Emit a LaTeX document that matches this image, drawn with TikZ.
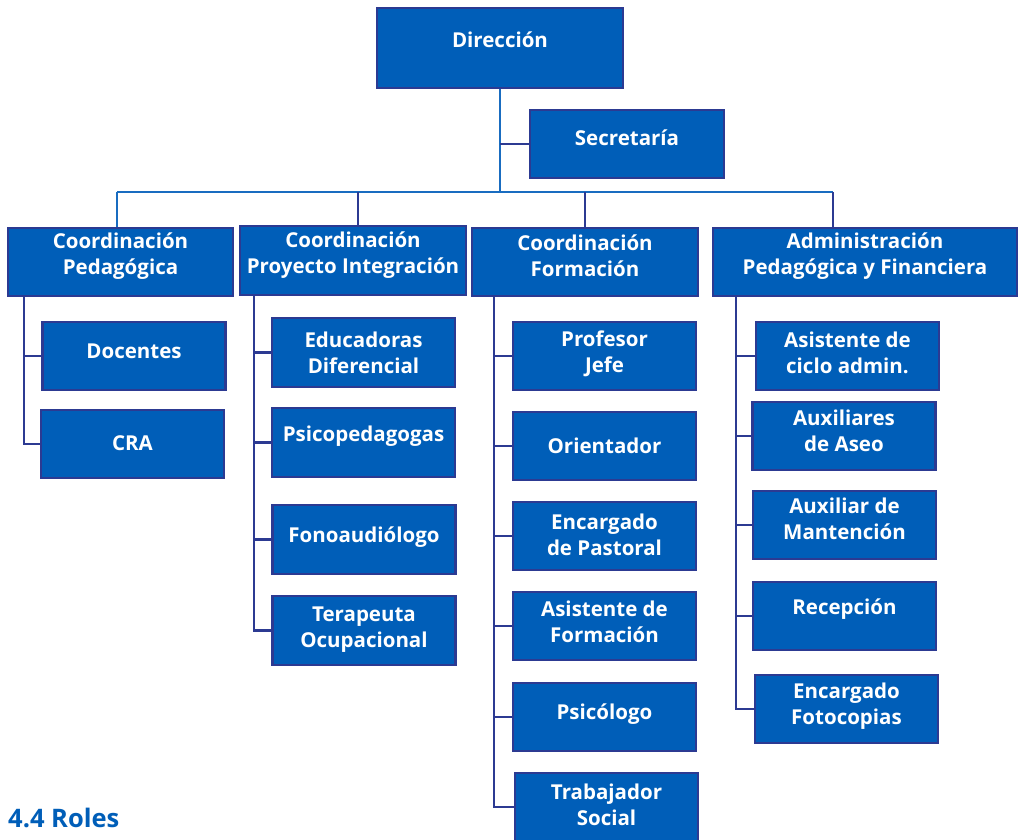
\documentclass[tikz,border=0pt]{standalone}
\usepackage{fontspec}
\setmainfont{Open Sans}
\definecolor{boxblue}{RGB}{0,94,184}
\definecolor{navy}{RGB}{44,58,146}
\definecolor{busblue}{RGB}{25,108,192}

\begin{document}
\begin{tikzpicture}[x=1pt, y=-1pt,
   box/.style={draw=navy, fill=boxblue, line width=2.2pt,
      minimum width=183pt, minimum height=68pt, inner sep=0pt},
   txt/.style={text=white, align=center, inner sep=0pt,
      font=\fontsize{20.5}{26}\selectfont\bfseries},
   trunk/.style={busblue, line width=2.8pt},
   branch/.style={navy, line width=2.8pt}
]
   \useasboundingbox (0,0) rectangle (1020,840);

   \node[box, minimum width=246pt, minimum height=80pt,
      label={[txt, yshift=8pt]center:Dirección}] (dir) at (500,48) {};
   \node[box, minimum width=194pt,
      label={[txt, yshift=6pt]center:Secretaría}] (sec) at (627,144) {};

   \node[box, minimum width=225pt,
      label={[txt, yshift=6pt]center:{Coordinación\\Pedagógica}}] (cped) at (120.5,262) {};
   \node[box, minimum width=226pt, minimum height=69pt,
      label={[txt, yshift=5.5pt]center:{Coordinación\\Proyecto Integración}}] (cpro) at (353,260.5) {};
   \node[box, minimum width=226pt,
      label={[txt, yshift=6pt]center:{Coordinación\\Formación}}] (cfor) at (585,262) {};
   \node[box, minimum width=304pt,
      label={[txt, yshift=6pt]center:{Administración\\Pedagógica y Financiera}}] (cadm) at (865,262) {};

   \coordinate (bus) at (500,192);
   \draw[trunk] (dir.south) -- (bus);
   \draw[branch] (dir.south |- sec.west) -- (sec.west);
   \draw[trunk] ([xshift=-3.5pt]cped.north |- bus) -- ([xshift=-32pt]cadm.north |- bus);
   \draw[trunk] ([xshift=-3.5pt]cped.north) -- ([xshift=-3.5pt]cped.north |- bus);
   \draw[branch] ([xshift=5pt]cpro.north) -- ([xshift=5pt]cpro.north |- bus);
   \draw[branch] (cfor.north) -- (cfor.north |- bus);
   \draw[branch] ([xshift=-32pt]cadm.north) -- ([xshift=-32pt]cadm.north |- bus);

   % Coordinacion Pedagogica
   \foreach \n/\x/\y/\d/\t in {doc/134/356/5/Docentes, cra/132.5/444/1/CRA}
   {
      \node[box, label={[txt, yshift=\d pt]center:{\t}}] (\n) at (\x,\y) {};
      \draw[branch] ([xshift=17pt]cped.south west) |- (\n.west);
   }

   % Proyecto Integracion
   \foreach \n/\x/\y/\d/\t in {edu/363.5/352.5/0/{Educadoras\\Diferencial},
      psp/363.5/442.5/6/Psicopedagogas, fon/364/539.5/2/Fonoaudiólogo,
      ter/364/630.5/1/{Terapeuta\\Ocupacional}}
   {
      \node[box, minimum height=69pt, label={[txt, yshift=\d pt]center:{\t}}] (\n) at (\x,\y) {};
      \draw[branch] ([xshift=15pt]cpro.south west) |- (\n.west);
   }

   % Formacion
   \foreach \n/\x/\y/\d/\t in {pj/604.5/356/2/{Profesor\\Jefe}, ori/604.5/446/0/Orientador,
      pas/604.5/536/1/{Encargado\\de Pastoral}, asf/604.5/626/4/{Asistente de\\Formación},
      psi/604.5/717/3/Psicólogo, tra/606.5/807/2/{Trabajador\\Social}}
   {
      \node[box, label={[txt, yshift=\d pt]center:{\t}}] (\n) at (\x,\y) {};
      \draw[branch] ([xshift=23pt]cfor.south west) |- (\n.west);
   }

   % Administracion
   \foreach \n/\x/\y/\d/\t in {asc/847.5/356/3/{Asistente de\\ciclo admin.},
      aux/844/436/5/{Auxiliares\\de Aseo}, man/844.5/525/6/{Auxiliar de\\Mantención},
      rec/844.5/616/7/Recepción, foto/846.5/709/3/{Encargado\\Fotocopias}}
   {
      \node[box, label={[txt, yshift=\d pt]center:{\t}}] (\n) at (\x,\y) {};
      \draw[branch] ([xshift=24pt]cadm.south west) |- (\n.west);
   }

   \node[anchor=west, inner sep=0pt, text=boxblue,
      font=\fontsize{25.5}{30}\selectfont\bfseries] (roles) at (8,818) {4.4 Roles};
\end{tikzpicture}
\end{document}
